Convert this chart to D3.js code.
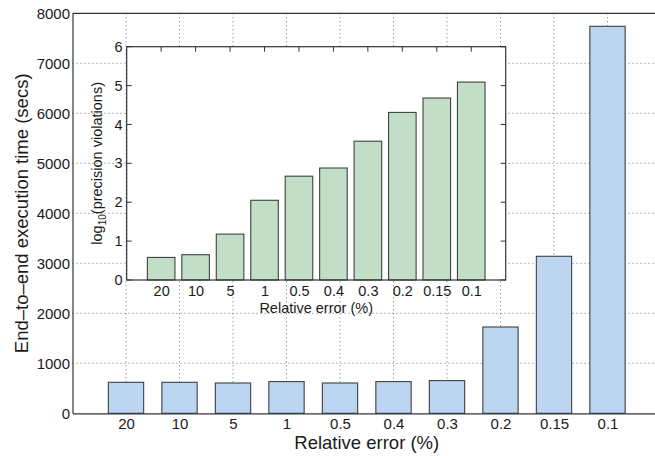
<!DOCTYPE html>
<html><head><meta charset="utf-8">
<script src="https://cdn.jsdelivr.net/npm/d3@7"></script>
<style>
body{margin:0;background:#fff;}
text{font-family:"Liberation Sans",Arial,Helvetica,sans-serif;fill:#1a1a1a;}
</style></head>
<body><svg id="c" width="655" height="456"></svg>
<script>
const categories = ["20","10","5","1","0.5","0.4","0.3","0.2","0.15","0.1"];
const execTime = [620, 620, 606, 634, 606, 634, 654, 1726, 3140, 7740];
const logViolations = [0.58, 0.65, 1.18, 2.05, 2.67, 2.88, 3.57, 4.31, 4.68, 5.09];
const mainYTicks = [0,1000,2000,3000,4000,5000,6000,7000,8000];
const insetYTicks = [0,1,2,3,4,5,6];

const svg = d3.select("#c");
const gridColor = "#707070";
const axisColor = "#333";
const fmt = d3.format("d");

// ---------- main axes ----------
const M = {l:72.5, r:661, t:13.3, b:413.3};
const x = d3.scaleLinear().domain([0,11]).range([M.l, M.r]);
const y = d3.scaleLinear().domain([0,8000]).range([M.b, M.t]);
const idx = categories.map((c,i)=>i+1);

const main = svg.append("g");
// grid
main.append("g").selectAll("line").data(mainYTicks.slice(1,-1)).join("line")
  .attr("x1",M.l).attr("x2",M.r).attr("y1",d=>y(d)).attr("y2",d=>y(d))
  .attr("stroke",gridColor).attr("stroke-width",1).attr("stroke-dasharray","1,3");
main.append("g").selectAll("line").data(idx).join("line")
  .attr("x1",d=>x(d)).attr("x2",d=>x(d)).attr("y1",M.t).attr("y2",M.b)
  .attr("stroke",gridColor).attr("stroke-width",1).attr("stroke-dasharray","1,3");

const bw = 0.66*(x(1)-x(0));
main.append("g").selectAll("rect").data(execTime).join("rect")
  .attr("x",(d,i)=>x(i+1)-bw/2).attr("width",bw)
  .attr("y",d=>y(d)).attr("height",d=>M.b-y(d))
  .attr("fill","#bcd6f2").attr("stroke","#3b4048").attr("stroke-width",1.1);

// axes
const ax = main.append("g").attr("transform",`translate(0,${M.b})`)
  .call(d3.axisBottom(x).tickValues(idx).tickFormat(d=>categories[d-1]).tickSize(0).tickPadding(5));
const ay = main.append("g").attr("transform",`translate(${M.l},0)`)
  .call(d3.axisLeft(y).tickValues(mainYTicks).tickFormat(fmt).tickSize(0).tickPadding(2.5));
[ax,ay].forEach(g=>{g.select(".domain").attr("stroke",axisColor).attr("stroke-width",1.2);
  g.selectAll("text").attr("font-size","15px").attr("fill","#1a1a1a")
   .style("font-family","'Liberation Sans',Arial,sans-serif");});
main.append("line").attr("x1",M.l).attr("x2",M.r).attr("y1",M.t).attr("y2",M.t)
  .attr("stroke",axisColor).attr("stroke-width",1.2);

main.append("text").attr("x",(M.l+M.r)/2).attr("y",449).attr("text-anchor","middle")
  .attr("font-size","18.5px").text("Relative error (%)");
main.append("text").attr("transform",`translate(28,${(M.t+M.b)/2}) rotate(-90)`)
  .attr("text-anchor","middle").attr("font-size","18.5px").text("End\u2013to\u2013end execution time (secs)");

// ---------- inset axes ----------
const I = {l:126.7, r:505.7, t:46.7, b:280};
const xi = d3.scaleLinear().domain([0,11]).range([I.l, I.r]);
const yi = d3.scaleLinear().domain([0,6]).range([I.b, I.t]);
const ins = svg.append("g");
ins.append("rect").attr("x",I.l).attr("y",I.t).attr("width",I.r-I.l).attr("height",I.b-I.t)
  .attr("fill","#fff");
const bwi = 0.8*(xi(1)-xi(0));
ins.append("g").selectAll("rect").data(logViolations).join("rect")
  .attr("x",(d,i)=>xi(i+1)-bwi/2).attr("width",bwi)
  .attr("y",d=>yi(d)).attr("height",d=>I.b-yi(d))
  .attr("fill","#c2dec6").attr("stroke","#3b4540").attr("stroke-width",1.1);

const axi = ins.append("g").attr("transform",`translate(0,${I.b})`)
  .call(d3.axisBottom(xi).tickValues(idx).tickFormat(d=>categories[d-1]).tickSize(0).tickPadding(6));
const ayi = ins.append("g").attr("transform",`translate(${I.l},0)`)
  .call(d3.axisLeft(yi).tickValues(insetYTicks).tickFormat(fmt).tickSize(0).tickPadding(4));
[axi,ayi].forEach(g=>{g.select(".domain").remove();
  g.selectAll("text").attr("font-size","14.5px").attr("fill","#1a1a1a")
   .style("font-family","'Liberation Sans',Arial,sans-serif");});
// inward ticks on top, right, left
const tl = 5;
ins.append("g").selectAll("line").data(idx).join("line")
  .attr("x1",d=>xi(d)).attr("x2",d=>xi(d)).attr("y1",I.t).attr("y2",I.t+tl)
  .attr("stroke",axisColor);
ins.append("g").selectAll("line").data(insetYTicks).join("line")
  .attr("x1",I.r).attr("x2",I.r-tl).attr("y1",d=>yi(d)).attr("y2",d=>yi(d))
  .attr("stroke",axisColor);
ins.append("g").selectAll("line").data(insetYTicks).join("line")
  .attr("x1",I.l).attr("x2",I.l+tl).attr("y1",d=>yi(d)).attr("y2",d=>yi(d))
  .attr("stroke",axisColor);
ins.append("rect").attr("x",I.l).attr("y",I.t).attr("width",I.r-I.l).attr("height",I.b-I.t)
  .attr("fill","none").attr("stroke",axisColor).attr("stroke-width",1.2);

ins.append("text").attr("x",(I.l+I.r)/2).attr("y",313).attr("text-anchor","middle")
  .attr("font-size","14.5px").text("Relative error (%)");
const yl = ins.append("text").attr("transform",`translate(102,${(I.t+I.b)/2}) rotate(-90)`)
  .attr("text-anchor","middle").attr("font-size","14.5px");
yl.append("tspan").text("log");
yl.append("tspan").attr("font-size","10px").attr("dy","4").text("10");
yl.append("tspan").attr("dy","-4").text("(precision violations)");
</script></body></html>
